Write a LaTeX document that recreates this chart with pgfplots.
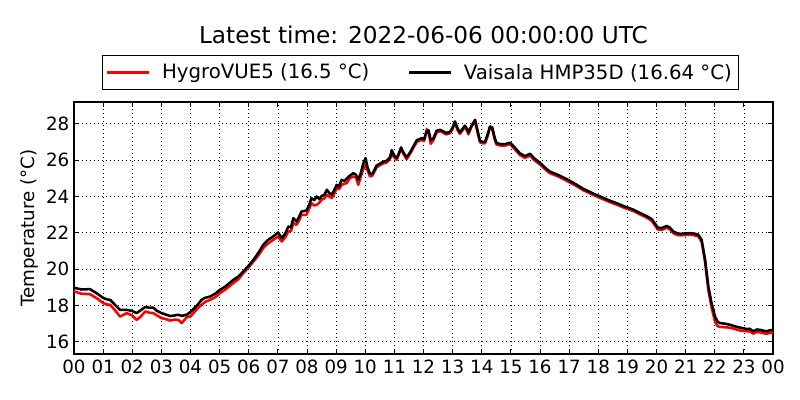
\documentclass[border=0pt]{standalone}
\usepackage{fontspec}
\setmainfont{DejaVu Sans}
\usepackage{pgfplots}
\pgfplotsset{compat=1.18}
\usepackage{pgfplotstable}

\pgfplotstableread{
h v
0.00 18.98
0.25 18.88
0.55 18.90
0.80 18.65
1.00 18.42
1.15 18.33
1.24 18.31
1.40 18.05
1.58 17.76
1.81 17.76
2.00 17.70
2.15 17.58
2.30 17.75
2.44 17.91
2.60 17.88
2.72 17.88
2.85 17.70
3.01 17.58
3.15 17.50
3.30 17.42
3.45 17.45
3.58 17.49
3.70 17.43
3.87 17.49
4.00 17.65
4.10 17.80
4.25 18.05
4.38 18.31
4.50 18.42
4.67 18.49
4.85 18.65
5.01 18.86
5.20 19.05
5.47 19.41
5.65 19.60
5.81 19.87
6.00 20.20
6.16 20.51
6.35 20.95
6.50 21.34
6.65 21.60
6.84 21.80
7.01 22.02
7.13 21.71
7.25 21.95
7.36 22.35
7.45 22.30
7.53 22.81
7.64 22.62
7.72 22.85
7.81 23.17
7.98 23.23
8.07 23.50
8.15 23.91
8.25 23.80
8.33 24.00
8.42 23.85
8.50 24.02
8.60 24.10
8.68 24.37
8.76 24.20
8.85 24.09
8.95 24.40
9.02 24.64
9.10 24.55
9.19 24.92
9.28 24.85
9.36 24.98
9.47 25.15
9.59 25.28
9.68 25.20
9.76 24.92
9.85 25.30
9.93 25.80
10.01 26.11
10.08 25.60
10.16 25.25
10.25 25.25
10.39 25.70
10.50 25.80
10.62 25.92
10.72 25.95
10.85 26.15
10.91 26.55
10.97 26.30
11.08 26.11
11.15 26.35
11.23 26.70
11.30 26.45
11.42 26.15
11.55 26.45
11.65 26.75
11.77 27.10
11.94 27.21
12.02 27.15
12.11 27.58
12.17 27.65
12.25 27.10
12.34 27.20
12.45 27.62
12.57 27.67
12.68 27.58
12.78 27.50
12.91 27.55
13.00 27.80
13.08 28.13
13.17 27.75
13.25 27.52
13.33 27.70
13.42 27.90
13.50 27.70
13.54 27.52
13.65 27.90
13.77 28.22
13.86 27.60
13.94 27.05
14.05 27.00
14.11 27.00
14.20 27.40
14.28 27.85
14.36 27.80
14.45 27.20
14.51 26.94
14.65 26.88
14.80 26.88
14.97 26.96
15.10 26.75
15.20 26.57
15.31 26.38
15.48 26.22
15.66 26.35
15.80 26.10
16.00 25.85
16.20 25.55
16.34 25.37
16.60 25.20
16.92 24.95
17.20 24.70
17.49 24.42
17.80 24.18
18.06 24.00
18.35 23.80
18.63 23.63
18.90 23.45
19.20 23.28
19.45 23.08
19.66 22.92
19.84 22.75
19.95 22.50
20.05 22.28
20.18 22.26
20.35 22.38
20.45 22.30
20.58 22.07
20.70 21.98
20.81 21.94
21.00 21.97
21.15 21.98
21.30 21.95
21.44 21.89
21.55 21.61
21.67 20.51
21.78 19.04
21.89 18.13
22.01 17.39
22.10 17.10
22.18 17.03
22.35 17.00
22.52 16.94
22.70 16.85
22.87 16.78
23.00 16.74
23.10 16.70
23.20 16.72
23.32 16.58
23.45 16.68
23.55 16.66
23.65 16.62
23.78 16.58
23.90 16.64
24.00 16.64
}\vaisala

\pgfplotstableread{
h v
0.00 18.78
0.25 18.65
0.55 18.62
0.80 18.38
1.00 18.13
1.15 18.05
1.24 18.04
1.40 17.75
1.58 17.39
1.81 17.58
2.00 17.45
2.15 17.21
2.30 17.40
2.44 17.67
2.60 17.60
2.72 17.58
2.85 17.45
3.01 17.30
3.15 17.25
3.30 17.17
3.45 17.22
3.58 17.21
3.70 17.03
3.87 17.36
4.00 17.40
4.10 17.58
4.25 17.85
4.38 18.04
4.50 18.20
4.67 18.31
4.85 18.45
5.01 18.68
5.20 18.88
5.47 19.23
5.65 19.45
5.81 19.78
6.00 20.10
6.16 20.42
6.35 20.80
6.50 21.16
6.65 21.40
6.84 21.61
7.01 21.80
7.13 21.52
7.25 21.75
7.36 22.07
7.45 22.10
7.53 22.53
7.64 22.44
7.72 22.65
7.81 22.99
7.98 22.99
8.07 23.30
8.15 23.63
8.25 23.50
8.33 23.54
8.42 23.65
8.50 23.82
8.60 23.90
8.68 24.09
8.76 24.00
8.85 23.91
8.95 24.20
9.02 24.46
9.10 24.40
9.19 24.64
9.28 24.70
9.36 24.73
9.47 25.00
9.59 25.10
9.68 25.05
9.76 24.64
9.85 25.10
9.93 25.50
10.01 25.74
10.08 25.45
10.16 25.10
10.25 25.15
10.39 25.60
10.50 25.72
10.62 25.82
10.72 25.86
10.85 26.05
10.91 26.40
10.97 26.20
11.08 26.02
11.15 26.30
11.23 26.62
11.30 26.38
11.42 26.05
11.55 26.38
11.65 26.68
11.77 27.00
11.94 27.12
12.02 27.05
12.11 27.70
12.17 27.55
12.25 26.90
12.34 27.10
12.45 27.52
12.57 27.60
12.68 27.50
12.78 27.42
12.91 27.48
13.00 27.72
13.08 28.05
13.17 27.65
13.25 27.45
13.33 27.62
13.42 27.82
13.50 27.60
13.54 27.42
13.65 27.85
13.77 28.12
13.86 27.50
13.94 26.98
14.05 26.92
14.11 26.92
14.20 27.30
14.28 27.78
14.36 27.70
14.45 27.10
14.51 26.85
14.65 26.80
14.80 26.80
14.97 26.88
15.10 26.66
15.20 26.48
15.31 26.28
15.48 26.12
15.66 26.25
15.80 26.00
16.00 25.76
16.20 25.46
16.34 25.28
16.60 25.12
16.92 24.86
17.20 24.62
17.49 24.34
17.80 24.10
18.06 23.92
18.35 23.72
18.63 23.55
18.90 23.37
19.20 23.20
19.45 23.00
19.66 22.84
19.84 22.65
19.95 22.40
20.05 22.18
20.18 22.16
20.35 22.28
20.45 22.20
20.58 21.98
20.70 21.88
20.81 21.86
21.00 21.88
21.15 21.90
21.30 21.86
21.44 21.80
21.55 21.50
21.67 20.35
21.78 18.85
21.89 17.90
22.01 17.10
22.10 16.86
22.18 16.82
22.35 16.80
22.52 16.78
22.70 16.70
22.87 16.62
23.00 16.60
23.10 16.58
23.20 16.58
23.32 16.45
23.45 16.54
23.55 16.52
23.65 16.48
23.78 16.44
23.90 16.50
24.00 16.50
}\hygro

\begin{document}
\begin{tikzpicture}
\path[use as bounding box] (0,0) rectangle (600pt,300pt);
\node[font=\fontsize{17.4}{20}\selectfont] at (317.6pt,273.5pt) {Latest time: 2022-06-06 00:00:00 UTC};
\begin{axis}[
  at={(55.5pt,34.5pt)}, anchor=south west,
  scale only axis, width=524.25pt, height=189pt,
  xmin=0, xmax=24, ymin=15.33, ymax=29.2,
  xtick={0,1,...,24},
  xticklabels={00,01,02,03,04,05,06,07,08,09,10,11,12,13,14,15,16,17,18,19,20,21,22,23,00},
  ytick={16,18,...,28},
  tick align=inside, major tick length=3.5pt,
  grid=major,
  grid style={black, line width=0.5pt, dash pattern=on 0.75pt off 2.25pt},
  axis line style={black, line width=0.8pt},
  tick style={black, line width=0.6pt},
  ticklabel style={font=\fontsize{13.7}{16}\selectfont},
  /pgf/number format/assume math mode=true,
  xticklabel style={yshift=-1pt},
  ylabel={Temperature (°C)},
  ylabel style={font=\fontsize{13.7}{16}\selectfont, yshift=-1pt},
  legend columns=2,
  legend style={at={(0.4955,1.117)}, anchor=center, draw=black, line width=0.8pt,
    font=\fontsize{14.8}{17}\selectfont, inner xsep=3pt, inner ysep=4.5pt,
    /tikz/every even column/.append style={column sep=27pt}},
  legend image code/.code={\draw[#1, line width=1.9pt] (0pt,0pt) -- (31pt,0pt); \path (38pt,0pt);},
]
\addplot[red, line width=1.9pt, line join=round] table[x=h,y=v] {\hygro};
\addlegendentry{HygroVUE5 (16.5 °C)}
\addplot[black, line width=1.9pt, line join=round] table[x=h,y=v] {\vaisala};
\addlegendentry{Vaisala HMP35D (16.64 °C)}
\end{axis}
\end{tikzpicture}
\end{document}
